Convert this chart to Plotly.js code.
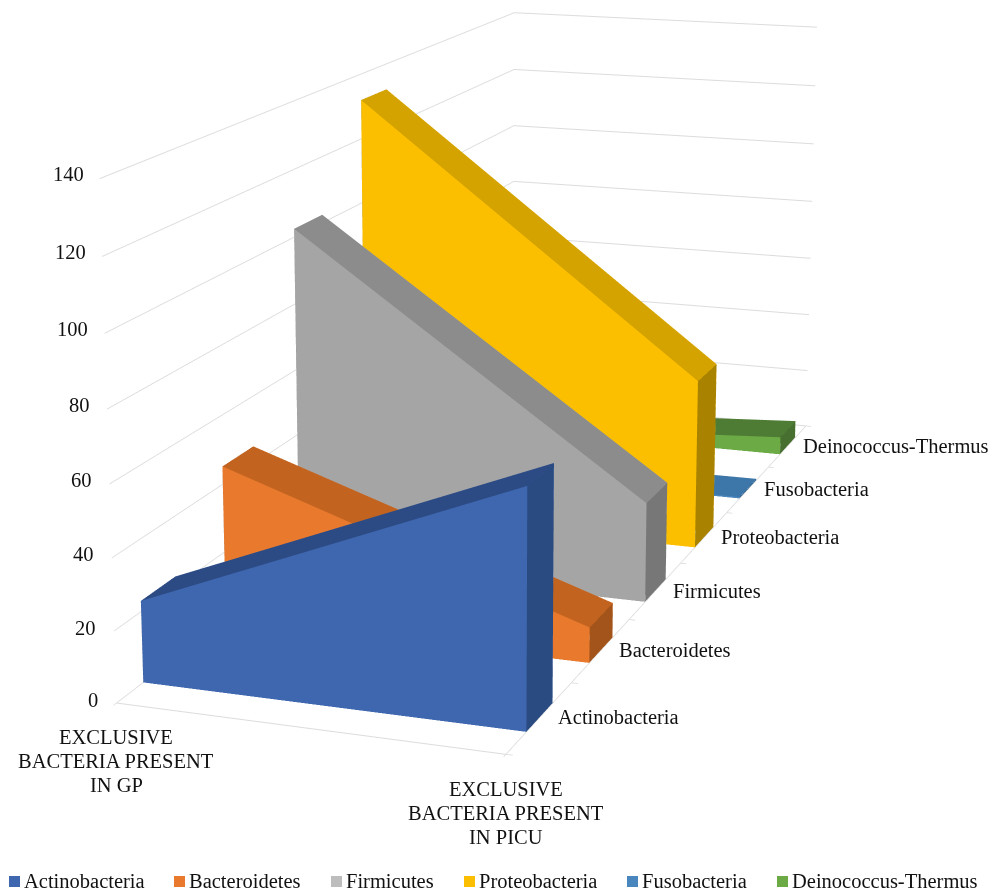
<!DOCTYPE html>
<html>
<head>
<meta charset="utf-8">
<script src="https://cdn.plot.ly/plotly-3.0.1.min.js"></script>
<style>
html,body{margin:0;padding:0;background:#fff;overflow:hidden;width:995px;height:890px}
#frame{position:absolute;left:0;top:0;width:995px;height:890px;overflow:hidden}
/* An oversized plot gives the scene a long lens; it is offset to place the view centre. */
#chart{position:absolute;left:-66px;top:-890px;width:1100px;height:2482px}
</style>
</head>
<body>
<div id="frame"><div id="chart"></div></div>
<script>
const groupLabels = [['EXCLUSIVE','BACTERIA PRESENT','IN GP'], ['EXCLUSIVE','BACTERIA PRESENT','IN PICU']];
const phyla = ['Actinobacteria','Bacteroidetes','Firmicutes','Proteobacteria','Fusobacteria','Deinococcus-Thermus'];
const gpCounts   = [23, 45.2, 102.5, 132, 0, 0];
const picuCounts = [65.7, 10.2, 29.8, 52.5, 0.5, 6];
const frontColors = ['#3E67AF','#E97A2D','#A5A5A5','#FBBF00','#4A86BE','#6BAA45'];
const topColors   = ['#2C4A83','#C26420','#8C8C8C','#D4A300','#3D76A8','#4F7C35'];
const sideColors  = ['#2A4A82','#A2541A','#777777','#A98300','#33648F','#477030'];
const legendColors = ['#3E67AF','#E97A2D','#BDBDBD','#FBBF00','#4A86BE','#6BAA45'];
const legendLeft = [9,174,331,464,627,777];
const valueTicks = [0,20,40,60,80,100,120,140];
const halfDepth = 0.2;
const labelFont = {family:'"Liberation Serif", serif', size:20.5, color:'#111'};
const plotW = 1100, plotH = 2482, plotLeft = -66, plotTop = -890;

// One solid slab per phylum: a front face, sloped top, end cap and hidden faces.
const traces = phyla.map((name,i)=>{
  const y0=i-halfDepth, y1=i+halfDepth, a=gpCounts[i], b=picuCounts[i];
  const x=[0,1,1,0, 0,1,1,0], y=[y0,y0,y0,y0, y1,y1,y1,y1], z=[0,0,b,a, 0,0,b,a];
  const faces=[
    [0,1,2,frontColors[i]],[0,2,3,frontColors[i]],
    [3,2,6,topColors[i]],[3,6,7,topColors[i]],
    [1,5,6,sideColors[i]],[1,6,2,sideColors[i]],
    [0,4,7,sideColors[i]],[0,7,3,sideColors[i]],
    [4,5,6,frontColors[i]],[4,6,7,frontColors[i]]
  ];
  return {
    type:'mesh3d', name, x, y, z,
    i:faces.map(f=>f[0]), j:faces.map(f=>f[1]), k:faces.map(f=>f[2]),
    facecolor:faces.map(f=>f[3]), flatshading:true,
    lighting:{ambient:1,diffuse:0,specular:0,roughness:1,fresnel:0},
    hoverinfo:'name', showlegend:false, showscale:false
  };
});

const xRange=[0,1], yRange=[-0.5,5.5], zRange=[0,140];
const lineGap=24;
const groupAnnotations=groupLabels.flatMap((lines,g)=>lines.map((text,n)=>({
  x:xRange[g],y:yRange[0],z:0,text,showarrow:false,xanchor:'center',yanchor:'middle',
  yshift:(g?-35:-34)-n*lineGap,font:labelFont})));
const annotations=[
  ...valueTicks.map(v=>({x:xRange[0],y:yRange[0],z:v,text:String(v),showarrow:false,xanchor:'right',yanchor:'middle',
    xshift:-16+v*0.014,yshift:3+v*0.014,font:labelFont})),
  ...groupAnnotations,
  ...phyla.map((name,i)=>({x:xRange[1],y:i,z:0,text:name,showarrow:false,xanchor:'left',yanchor:'middle',xshift:16-i*0.5,font:labelFont}))
];

// Legend row along the foot of the page, in paper fractions of the oversized plot.
const px=v=>(v-plotLeft)/plotW, py=v=>1-(v-plotTop)/plotH;
const legendShapes=phyla.map((_,i)=>({type:'rect',xref:'paper',yref:'paper',
  x0:px(legendLeft[i]),x1:px(legendLeft[i]+11),y0:py(887),y1:py(876),fillcolor:legendColors[i],line:{width:0}}));
const legendText=phyla.map((name,i)=>({xref:'paper',yref:'paper',x:px(legendLeft[i]+13),y:py(881),
  text:name,showarrow:false,xanchor:'left',yanchor:'middle',font:labelFont}));

const wallLine='#DCDCDC';
const layout={
  width:plotW,height:plotH,margin:{l:0,r:0,t:0,b:0},paper_bgcolor:'#fff',
  showlegend:false,shapes:legendShapes,annotations:legendText,
  scene:{
    domain:{x:[0,1],y:[0,1]},
    aspectmode:'manual',aspectratio:{x:0.98,y:2.9307,z:1.2693},
    camera:{projection:{type:'perspective'},up:{x:0,y:0,z:1},
      center:{x:-0.0625,y:-0.0420,z:-0.0751},eye:{x:2.5571,y:-7.50365,z:1.93205}},
    xaxis:{range:xRange,showgrid:false,zeroline:false,showticklabels:false,showline:true,linecolor:wallLine,linewidth:2,
      tickvals:xRange,ticks:'outside',ticklen:5,tickcolor:wallLine,tickwidth:2,title:{text:''},showspikes:false,showbackground:false},
    yaxis:{range:yRange,showgrid:false,zeroline:false,showticklabels:false,showline:true,linecolor:wallLine,linewidth:2,
      tickvals:[-0.5,0.5,1.5,2.5,3.5,4.5,5.5],ticks:'outside',ticklen:5,tickcolor:wallLine,tickwidth:2,title:{text:''},showspikes:false,showbackground:false},
    zaxis:{range:zRange,tickvals:valueTicks,showgrid:true,gridcolor:wallLine,gridwidth:2,zeroline:false,showticklabels:false,showline:false,
      ticks:'',title:{text:''},showspikes:false,showbackground:false},
    annotations
  }
};
Plotly.newPlot('chart',traces,layout,{displayModeBar:false,responsive:false});
</script>
</body>
</html>
